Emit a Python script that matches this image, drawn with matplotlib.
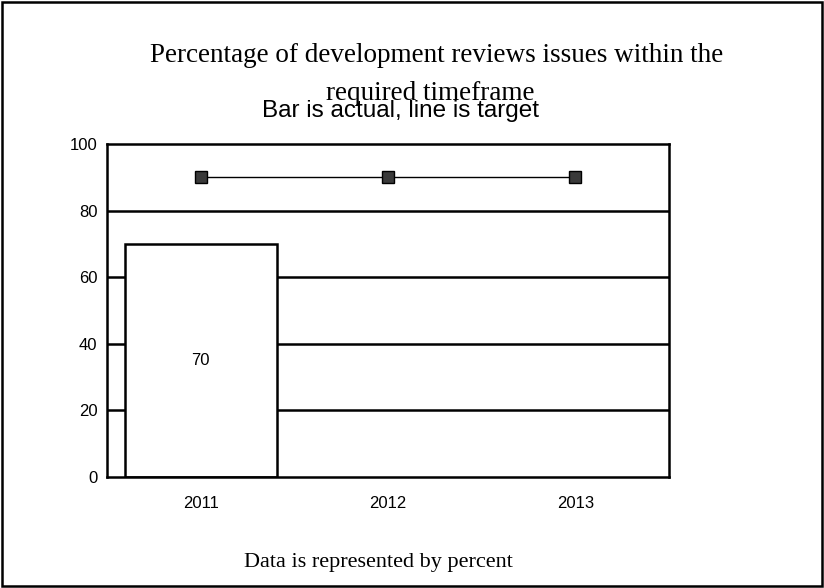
import matplotlib
matplotlib.use("Agg")
import matplotlib.pyplot as plt
from matplotlib.patches import Rectangle

years = ["2011", "2012", "2013"]
actual = [70]          # only 2011 has an actual value
target = [90, 90, 90]
yticks = [0, 20, 40, 60, 80, 100]

title1 = "Percentage of development reviews issues within the"
title2 = "required timeframe"
subtitle = "Bar is actual, line is target"
footer = "Data is represented by percent"

W, H = 824, 588
fig = plt.figure(figsize=(W / 100, H / 100), dpi=100)
ax = fig.add_axes([107 / W, 1 - 477 / H, (669 - 107) / W, (477 - 144) / H])

x = list(range(len(years)))

# grid lines behind everything
for v in yticks[1:-1]:
    ax.axhline(v, color="black", lw=1.8, zorder=1)

ax.bar(x[:len(actual)], actual, width=0.81, color="white", edgecolor="black",
       linewidth=1.8, zorder=2)
for xi, v in zip(x, actual):
    ax.text(xi, v / 2, str(v), ha="center", va="center", fontsize=12,
            family="Liberation Sans", zorder=3)

ax.plot(x, target, color="black", lw=1, marker="s", markersize=9,
        markerfacecolor="#3a3a3a", markeredgecolor="black", zorder=4)

ax.set_xlim(-0.5, 2.5)
ax.set_ylim(0, 100)
ax.set_xticks(x)
ax.set_xticklabels(years)
ax.set_yticks(yticks)
ax.tick_params(axis="both", length=0, labelsize=12)
ax.tick_params(axis="x", pad=14)
ax.tick_params(axis="y", pad=7)
for lab in ax.get_xticklabels() + ax.get_yticklabels():
    lab.set_family("Liberation Sans")
for s in ax.spines.values():
    s.set_linewidth(1.8)
    s.set_color("black")

serif = "Liberation Serif"
fig.text(437 / W, 1 - 55 / H, title1, ha="center", va="center", fontsize=19.5, family=serif)
fig.text(430 / W, 1 - 93 / H, title2, ha="center", va="center", fontsize=19.5, family=serif)
fig.text(401 / W, 1 - 111 / H, subtitle, ha="center", va="center", fontsize=17.5,
         family="Liberation Sans")
fig.text(378 / W, 1 - 562 / H, footer, ha="center", va="center", fontsize=16, family=serif)

# outer frame
fig.patches.append(Rectangle((2 / W, 2 / H), (W - 4) / W, (H - 4) / H,
                             transform=fig.transFigure, fill=False,
                             edgecolor="black", lw=1.8))

fig.savefig("out.png", dpi=100)
